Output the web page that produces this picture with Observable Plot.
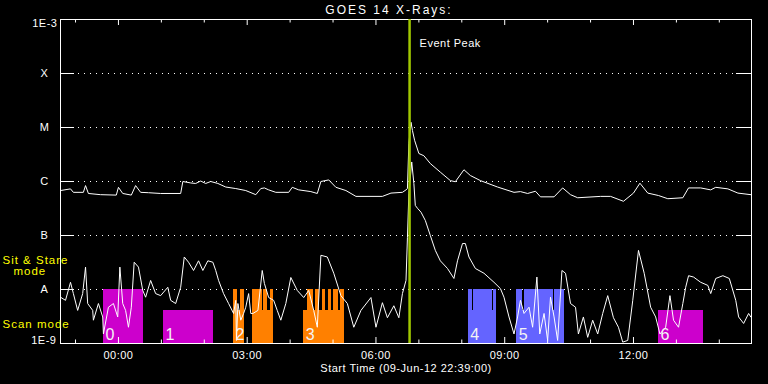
<!DOCTYPE html>
<html><head><meta charset="utf-8">
<script src="https://cdn.jsdelivr.net/npm/d3@7"></script>
<script src="https://cdn.jsdelivr.net/npm/@observablehq/plot@0.6"></script>
<style>
html,body{margin:0;padding:0;background:#000;}
#chart svg text{letter-spacing:0.5px;}
#chart svg .yl text{letter-spacing:1px;}
#chart svg .ttl text{letter-spacing:2px;}
</style></head><body><div id="chart"></div>
<script>
// ---- data ----
const startTime = "2012-06-09T22:39:00Z";
const spanMinutes = 966;            // plotted span after start (min)
const peakMinute = 488;             // event peak, minutes after start

// GOES long channel (1-8 A): minutes after start, flux W/m^2
const longMin  = [0,14,18,32,35,39,56,78,81,87,99,105,112,123,140,168,171,182,189,196,203,210,220,231,245,259,273,280,285,291,301,319,324,333,350,359,364,375,385,399,413,450,462,478,483,485,487,490,492,495,501,508,517,531,545,552,564,573,587,611,634,643,653,664,671,690,702,713,723,755,769,787,801,810,821,836,849,870,878,895,909,916,933,947,965];
const longFlux = [6.8e-7,7.3e-7,6.3e-7,6.3e-7,8.4e-7,6.0e-7,5.7e-7,5.6e-7,7.8e-7,6.0e-7,5.6e-7,8.4e-7,6.3e-7,6.2e-7,6.0e-7,6.0e-7,1.0e-6,9.4e-7,9.2e-7,1.02e-6,9.2e-7,1.0e-6,9.2e-7,7.9e-7,7.4e-7,6.8e-7,5.7e-7,7.4e-7,7.6e-7,7.0e-7,6.3e-7,6.3e-7,7.8e-7,7.0e-7,6.5e-7,6.0e-7,1.0e-6,1.07e-6,7.8e-7,6.8e-7,5.3e-7,5.3e-7,6.1e-7,6.3e-7,7.0e-7,7.4e-7,5.1e-6,1.25e-5,8.8e-6,5.8e-6,3.3e-6,3.0e-6,2.15e-6,1.49e-6,1.04e-6,9.9e-7,1.65e-6,1.29e-6,1.04e-6,7.9e-7,6.3e-7,6.5e-7,6.0e-7,6.6e-7,5.2e-7,5.2e-7,7.6e-7,5.7e-7,5.0e-7,5.3e-7,5.3e-7,4.3e-7,6.1e-7,9.3e-7,6.1e-7,5.5e-7,4.8e-7,5.0e-7,7.6e-7,7.6e-7,7.0e-7,7.8e-7,7.3e-7,6.1e-7,5.7e-7];

// GOES short channel (0.5-4 A)
const shortMin  = [0,7,14,18,24,31,35,38,45,46,53,59,60,67,74,80,83,87,91,95,99,103,109,115,119,126,133,140,150,154,161,168,173,179,186,193,199,206,213,217,221,228,235,242,245,246,248,252,256,259,263,266,269,276,282,285,291,298,303,308,315,322,331,340,347,354,359,364,373,382,392,401,410,420,434,441,450,457,466,473,478,483,485,487,491,494,496,499,504,510,517,524,531,541,550,555,562,566,571,580,592,606,615,620,627,634,639,643,648,655,660,666,670,676,681,685,690,695,701,706,713,720,724,731,737,744,751,758,765,773,780,786,793,800,808,816,825,832,838,846,852,857,864,870,874,878,885,895,905,909,916,926,935,944,948,955,962,965];
const shortFlux = [7.2e-9,6.3e-9,1.36e-8,8.4e-9,4.1e-9,8.4e-9,2.6e-8,5.5e-9,4.1e-9,2.7e-9,5.5e-9,3.1e-9,1.5e-9,4.7e-9,5.5e-9,3.1e-9,2.6e-8,5.5e-9,4.1e-9,2.0e-9,4.7e-9,3.2e-8,2.6e-8,9.6e-9,7.2e-9,1.47e-8,8.4e-9,7.7e-9,1.1e-8,6.3e-9,5.5e-9,1.1e-8,4.0e-8,3.2e-8,2.25e-8,3.4e-8,2.25e-8,3.4e-8,3.2e-8,2.25e-8,1.47e-8,8.4e-9,5.5e-9,3.6e-9,6.3e-9,1.14e-9,5.5e-9,2.7e-9,3.6e-9,4.7e-9,8.4e-9,3.6e-9,3.6e-9,4.1e-9,2.25e-8,1.3e-8,7.1e-9,6.3e-9,4.1e-9,2.7e-9,5.5e-9,1.67e-8,9.6e-9,7.1e-9,9.6e-9,4.1e-9,2.0e-9,4.3e-8,4.0e-8,2.0e-8,7.7e-9,5.5e-9,2.0e-9,4.1e-9,7.1e-9,2.0e-9,5.7e-9,3.0e-9,5.0e-9,3.0e-9,8.4e-9,1.47e-8,9.1e-8,6.0e-7,2.3e-6,9.2e-7,3.6e-7,3.2e-7,2.7e-7,1.9e-7,1.0e-7,5.3e-8,3.4e-8,2.45e-8,1.6e-8,3.4e-8,7.1e-8,7.1e-8,4.0e-8,2.45e-8,2.0e-8,1.36e-8,1.04e-8,7.2e-9,3.1e-9,1.5e-9,3.1e-9,6.3e-9,3.6e-9,4.7e-9,2.0e-9,1.7e-8,1.5e-9,3.6e-9,1.14e-9,7.2e-9,3.1e-9,1.14e-9,2.25e-8,2.0e-8,5.5e-9,4.7e-9,1.5e-9,3.1e-9,1.3e-9,2.7e-9,1.5e-9,3.6e-9,7.7e-9,3.0e-9,2.0e-9,1.06e-9,1.14e-9,6.3e-9,5.3e-8,2.0e-8,4.7e-9,3.1e-9,1.5e-9,2.0e-9,7.7e-9,2.7e-9,2.0e-9,5.5e-9,1.1e-8,1.8e-8,1.7e-8,1.36e-8,1.19e-8,8.4e-9,1.6e-8,1.8e-8,1.6e-8,6.3e-9,3.1e-9,2.35e-9,3.6e-9,3.1e-9];

// observing mode segments (minutes after start)
const segStart = [60, 144, 242,242,252, 269,269,284,293, 340,345,357,366,374,382,392, 570,570,577,605, 638,638,648,690.5, 836];
const segEnd   = [116,214, 257,248,257, 298,282,289,298, 397,353,362,371,379,388,397, 609,576,604,609, 705,646.5,689,705, 899];
const segMode  = ["stare","scan", "scan","stare","stare", "scan","stare","stare","stare", "scan","stare","stare","stare","stare","stare","stare", "scan","stare","stare","stare", "scan","stare","stare","stare", "scan"];
const segGroup = ["m","m", "o","o","o", "o","o","o","o", "o","o","o","o","o","o","o", "b","b","b","b", "b","b","b","b", "m"];
const groupColor = {m: "#cc00cc", o: "#ff8000", b: "#6464ff"};
const modeTop = {stare: 1e-8, scan: 4.1e-9};

const blockNames = ["0","1","2","3","4","5","6"];
const blockStart = [60,144,242,340,570,638,836];

const levelValues = [1e-3,1e-4,1e-5,1e-6,1e-7,1e-8,1e-9];
const levelNames  = ["1E-3","X","M","C","B","A","1E-9"];
const classLevels = [1e-4,1e-5,1e-6,1e-7,1e-8];

const modeLabels = ["Sit & Stare", "mode", "Scan mode"];
const modeLabelFlux = [3.0e-8, 1.87e-8, 1.9e-9];

const titleText = "GOES 14 X-Rays:";
const xTitle = "Start Time (09-Jun-12 22:39:00)";

// ---- build ----
const t0 = new Date(startTime);
const T = m => new Date(t0.getTime() + m * 60000);
const longData = longMin.map((m, i) => ({t: T(m), f: longFlux[i]}));
const shortData = shortMin.map((m, i) => ({t: T(m), f: shortFlux[i]}));
const segs = segStart.map((s, i) => ({x1: T(s), x2: T(segEnd[i]), top: modeTop[segMode[i]], fill: groupColor[segGroup[i]], mode: segMode[i]}));
const segsOrdered = segs.filter(d => d.mode === "scan").concat(segs.filter(d => d.mode === "stare"));
const blocks = blockNames.map((n, i) => ({t: T(blockStart[i]), n}));
const tEnd = T(spanMinutes);
const hours = d3.utcHour.range(t0, tEnd);
const majors = hours.filter(d => d.getUTCHours() % 3 === 0);
const minors = hours.filter(d => d.getUTCHours() % 3 !== 0);
const levels = levelValues.map((v, i) => ({v, name: levelNames[i]}));
const modeTexts = modeLabels.map((s, i) => ({s, v: modeLabelFlux[i], dx: i === 1 ? -47 : -58}));
const FW = 691, FH = 324;

const chart = Plot.plot({
  width: 768, height: 384,
  marginLeft: 60, marginRight: 17, marginTop: 19, marginBottom: 41,
  style: {background: "#000", color: "#fff", fontFamily: "'Liberation Sans', Arial, sans-serif", fontSize: "11px", overflow: "visible"},
  x: {type: "utc", domain: [t0, tEnd], axis: null},
  y: {type: "log", domain: [1e-9, 1e-3], axis: null},
  color: {type: "identity"},
  marks: [
    Plot.ruleY(classLevels, {y: d => d, stroke: "#fff", strokeDasharray: "1,5", insetLeft: 18, insetRight: 16}),
    Plot.rectY(segsOrdered, {x1: "x1", x2: "x2", y1: 1e-9, y2: "top", fill: "fill", shapeRendering: "crispEdges"}),
    Plot.line(longData, {x: "t", y: "f", stroke: "#fff", strokeWidth: 1}),
    Plot.line(shortData, {x: "t", y: "f", stroke: "#fff", strokeWidth: 1}),
    Plot.tickY(classLevels, {y: d => d, stroke: "#fff", insetRight: FW - 14}),
    Plot.tickY(classLevels, {y: d => d, stroke: "#fff", insetLeft: FW - 15}),
    Plot.tickX(majors, {x: d => d, stroke: "#fff", insetBottom: FH - 6}),
    Plot.tickX(minors, {x: d => d, stroke: "#fff", insetBottom: FH - 3.5}),
    Plot.tickX(majors, {x: d => d, stroke: "#fff", insetTop: FH - 6}),
    Plot.tickX(minors, {x: d => d, stroke: "#fff", insetTop: FH - 3.5}),
    Plot.frame({stroke: "#fff"}),
    Plot.ruleX([T(peakMinute)], {x: d => d, stroke: "#a0c800", strokeWidth: 2.5}),
    Plot.text(["Event Peak"], {x: () => T(peakMinute), frameAnchor: "top", textAnchor: "start", lineAnchor: "middle", dx: 10, dy: 24, fill: "#fff"}),
    Plot.text(blocks, {x: "t", text: "n", frameAnchor: "bottom", textAnchor: "start", lineAnchor: "bottom", dx: 2, dy: -4, fontSize: 16, fill: "#f4f4f4"}),
    // y labels
    Plot.text(levels.filter(d => d.name.length === 1), {y: "v", text: "name", frameAnchor: "left", textAnchor: "middle", lineAnchor: "middle", dx: -16, fill: "#fff"}),
    Plot.text(levels.filter(d => d.v === 1e-3), {y: "v", text: "name", frameAnchor: "left", textAnchor: "end", lineAnchor: "middle", dx: -3, dy: 4, fill: "#fff"}),
    Plot.text(levels.filter(d => d.v === 1e-9), {y: "v", text: "name", frameAnchor: "left", textAnchor: "end", lineAnchor: "middle", dx: -4, dy: -3, fill: "#fff"}),
    // mode labels (yellow)
    Plot.text(modeTexts.filter(d => d.dx === -58), {y: "v", text: "s", frameAnchor: "left", textAnchor: "start", lineAnchor: "bottom", dx: -58, fill: "#ffff00", fontSize: 11.5, className: "yl"}),
    Plot.text(modeTexts.filter(d => d.dx === -47), {y: "v", text: "s", frameAnchor: "left", textAnchor: "start", lineAnchor: "bottom", dx: -47, fill: "#ffff00", fontSize: 11.5, className: "yl"}),
    // x tick labels
    Plot.text(majors, {x: d => d, text: d => d3.utcFormat("%H:%M")(d), frameAnchor: "bottom", lineAnchor: "middle", dy: 12, fill: "#fff"}),
    Plot.text([xTitle], {frameAnchor: "bottom", lineAnchor: "middle", dy: 25, fill: "#fff"}),
    Plot.text([titleText], {frameAnchor: "top", lineAnchor: "middle", dy: -9, dx: -17, fill: "#fff", fontSize: 12, className: "ttl"})
  ]
});
document.getElementById("chart").appendChild(chart);
</script></body></html>
